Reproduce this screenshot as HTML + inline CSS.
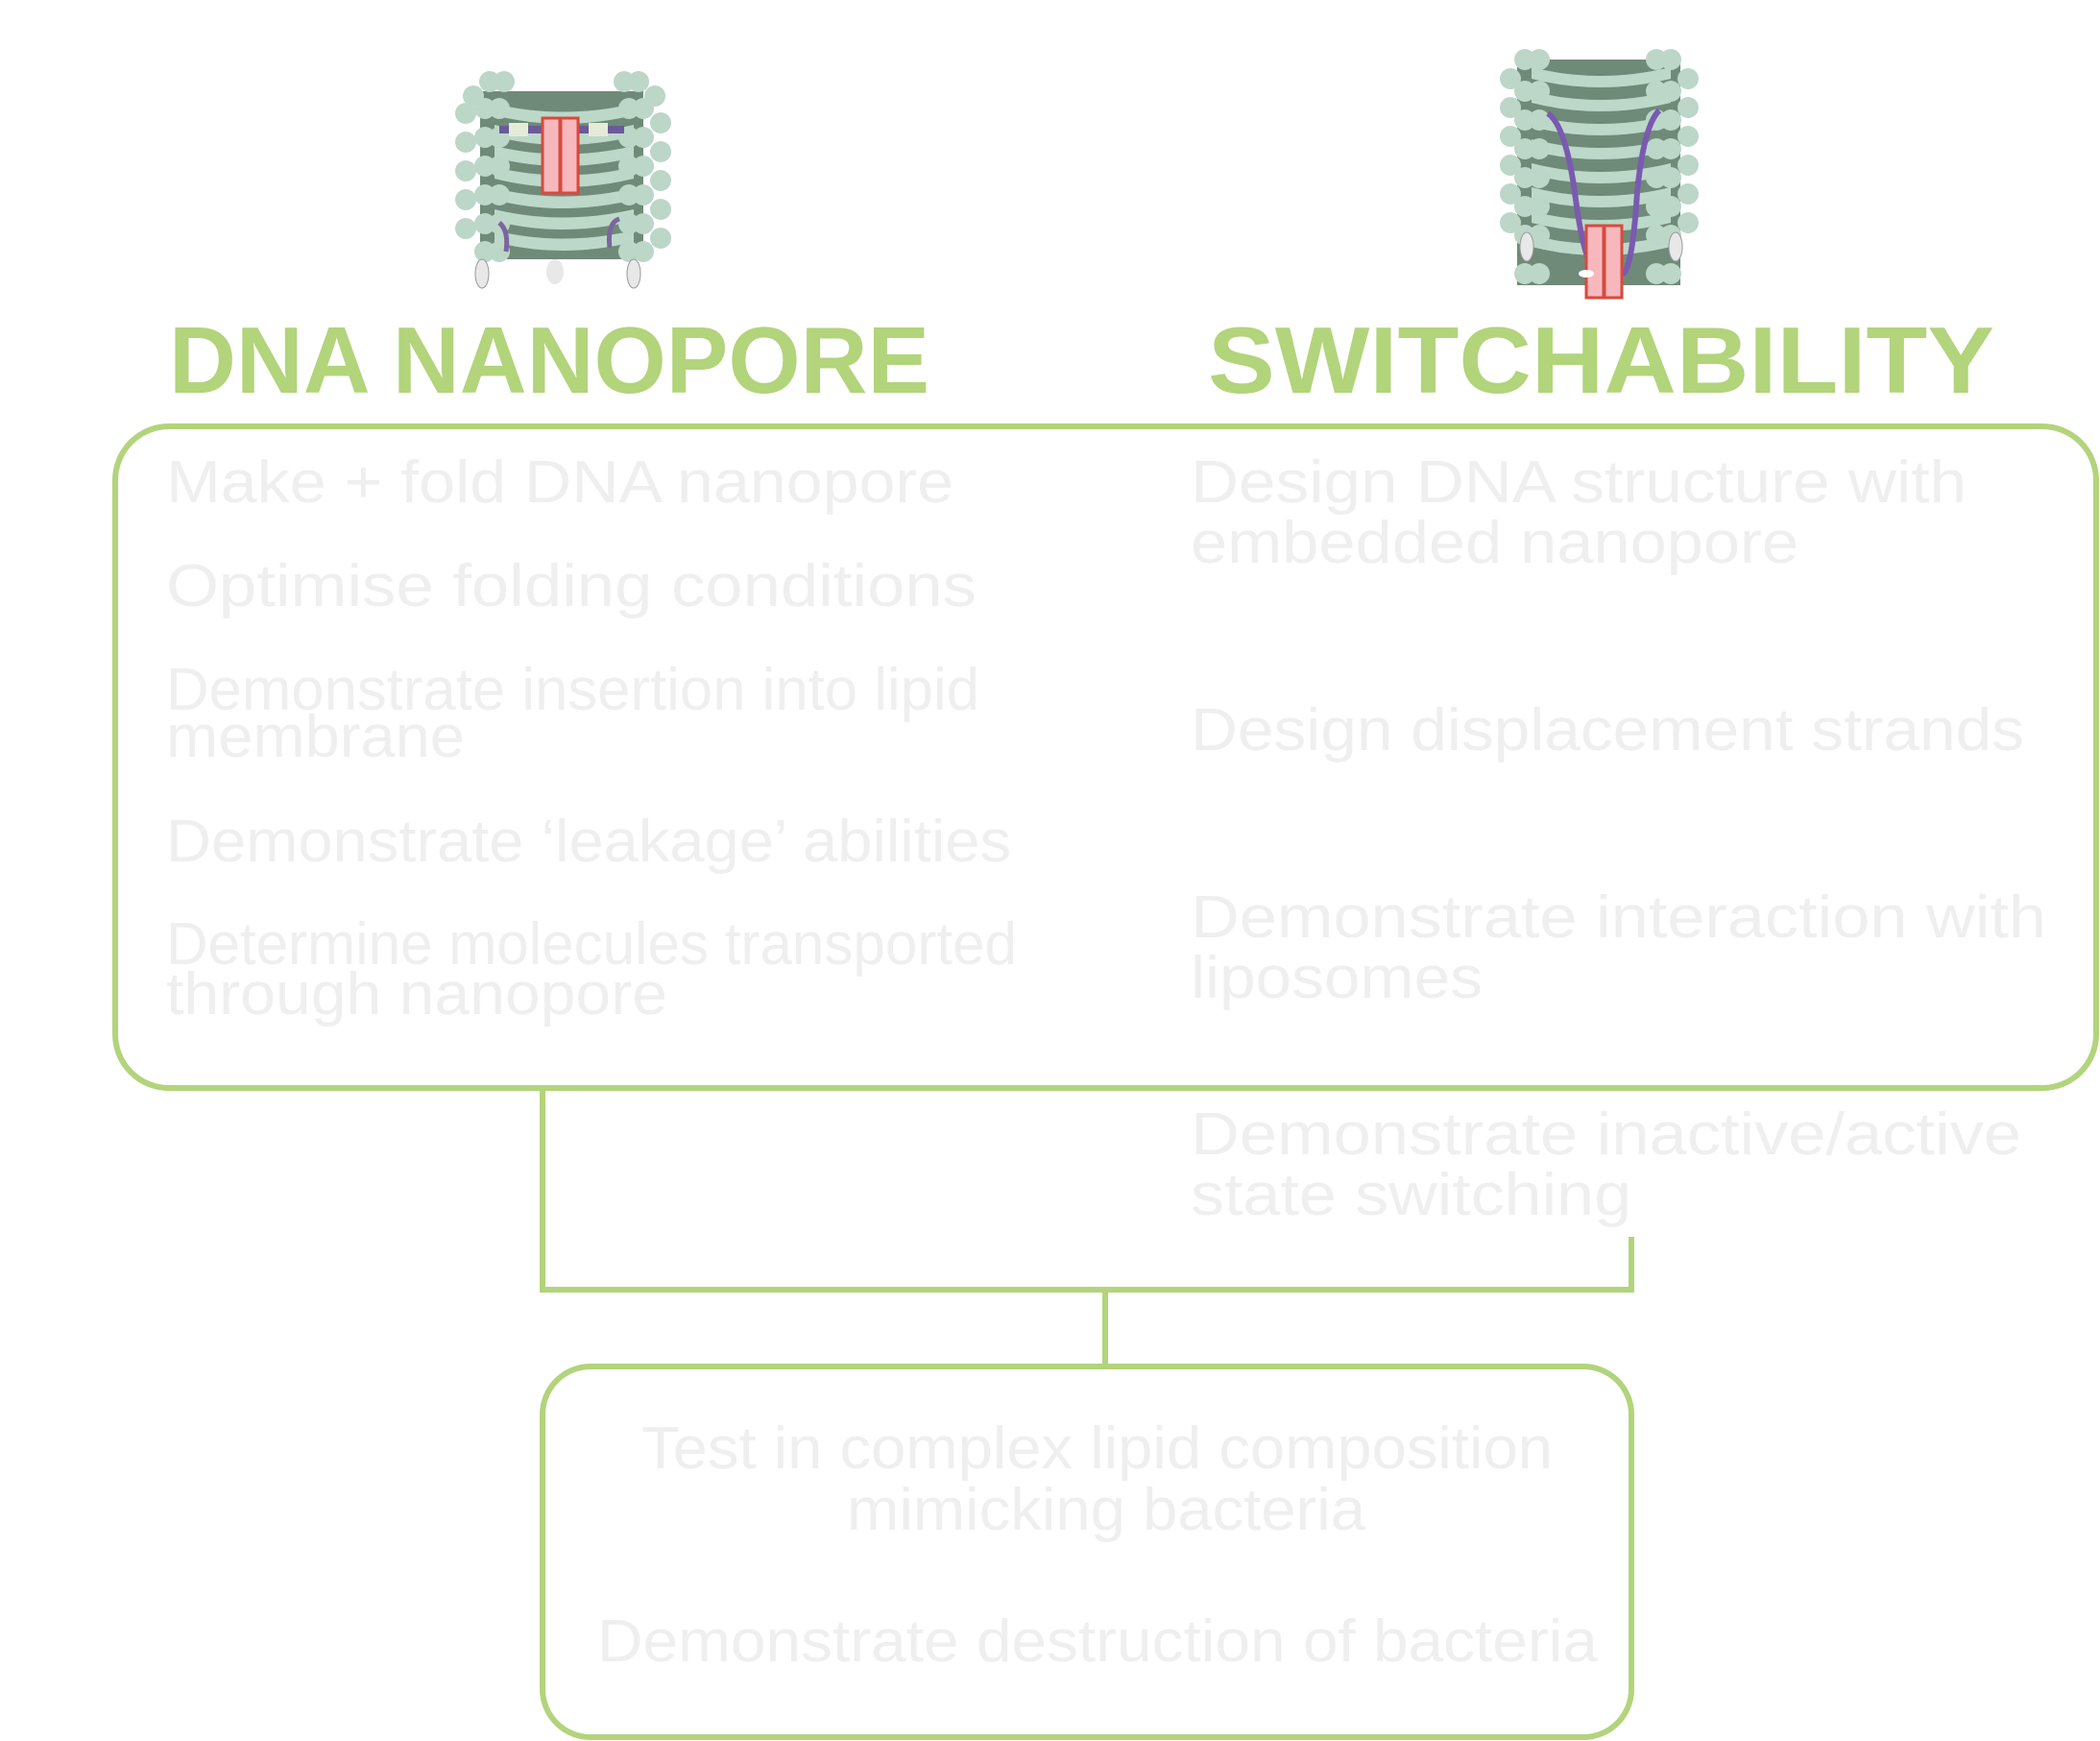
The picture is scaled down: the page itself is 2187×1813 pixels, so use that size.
<!DOCTYPE html>
<html><head><meta charset="utf-8"><style>
html,body{margin:0;padding:0;background:#fff;}
svg{display:block;}
</style></head><body>
<svg width="2187" height="1813" viewBox="0 0 2187 1813" xmlns="http://www.w3.org/2000/svg">
<defs>
<g id="ring"><circle r="13" fill="#bcd6c8" stroke="#a9c6b7" stroke-width="1"/></g>
</defs>
<!-- Left icon -->
<g>
  <rect x="500" y="95" width="170" height="175" fill="#6f8a78"/>
  <g fill="#bcd8c9">
    <path d="M515 108 Q585 125 660 108 L660 120 Q585 138 515 120Z"/>
    <path d="M515 130 Q585 147 660 130 L660 142 Q585 160 515 142Z"/>
    <path d="M515 152 Q585 169 660 152 L660 164 Q585 182 515 164Z"/>
    <path d="M515 174 Q585 191 660 174 L660 186 Q585 204 515 186Z"/>
    <path d="M515 196 Q585 213 660 196 L660 208 Q585 226 515 208Z"/>
    <path d="M515 218 Q585 235 660 218 L660 230 Q585 248 515 230Z"/>
    <path d="M515 240 Q585 257 660 240 L660 252 Q585 270 515 252Z"/>
  </g>
  <g fill="#bcd6c8">
    <circle cx="493" cy="100" r="11"/><circle cx="510" cy="85" r="11"/><circle cx="525" cy="85" r="11"/>
    <circle cx="485" cy="118" r="11"/><circle cx="505" cy="113" r="11"/><circle cx="520" cy="113" r="11"/>
    <circle cx="485" cy="148" r="11"/><circle cx="505" cy="143" r="11"/><circle cx="520" cy="143" r="11"/>
    <circle cx="485" cy="178" r="11"/><circle cx="505" cy="173" r="11"/><circle cx="520" cy="173" r="11"/>
    <circle cx="485" cy="208" r="11"/><circle cx="505" cy="203" r="11"/><circle cx="520" cy="203" r="11"/>
    <circle cx="485" cy="238" r="11"/><circle cx="505" cy="233" r="11"/><circle cx="520" cy="233" r="11"/>
    <circle cx="505" cy="262" r="11"/><circle cx="520" cy="262" r="11"/>
    <circle cx="650" cy="85" r="11"/><circle cx="665" cy="85" r="11"/><circle cx="682" cy="100" r="11"/>
    <circle cx="655" cy="113" r="11"/><circle cx="670" cy="113" r="11"/><circle cx="688" cy="128" r="11"/>
    <circle cx="655" cy="143" r="11"/><circle cx="670" cy="143" r="11"/><circle cx="688" cy="158" r="11"/>
    <circle cx="655" cy="173" r="11"/><circle cx="670" cy="173" r="11"/><circle cx="688" cy="188" r="11"/>
    <circle cx="655" cy="203" r="11"/><circle cx="670" cy="203" r="11"/><circle cx="688" cy="218" r="11"/>
    <circle cx="655" cy="233" r="11"/><circle cx="670" cy="233" r="11"/><circle cx="688" cy="248" r="11"/>
    <circle cx="655" cy="262" r="11"/><circle cx="670" cy="262" r="11"/>
  </g>
  <rect x="520" y="131" width="130" height="8" fill="#6a5a9a"/>
  <rect x="530" y="128" width="20" height="14" fill="#e4ecd8"/>
  <rect x="613" y="128" width="20" height="14" fill="#e4ecd8"/>
  <rect x="565" y="123" width="18" height="78" fill="#f7b8bd" stroke="#d84a3c" stroke-width="3"/>
  <rect x="584" y="123" width="18" height="78" fill="#f7b8bd" stroke="#d84a3c" stroke-width="3"/>
  <path d="M520 232 Q530 240 527 262" stroke="#7a669e" stroke-width="5" fill="none"/>
  <path d="M645 228 Q632 232 635 258" stroke="#7a669e" stroke-width="5" fill="none"/>
  <ellipse cx="502" cy="285" rx="7" ry="15" fill="#e8e8e8" stroke="#999" stroke-width="1"/>
  <ellipse cx="578" cy="283" rx="9" ry="13" fill="#e8e8e8"/>
  <ellipse cx="660" cy="285" rx="7" ry="15" fill="#e8e8e8" stroke="#999" stroke-width="1"/>
</g>
<!-- Right icon -->
<g>
  <rect x="1580" y="62" width="170" height="235" fill="#6f8a78"/>
  <g fill="#bcd8c9">
    <path d="M1595 70 Q1665 88 1740 70 L1740 82 Q1665 100 1595 82Z"/>
    <path d="M1595 95 Q1665 113 1740 95 L1740 107 Q1665 125 1595 107Z"/>
    <path d="M1595 120 Q1665 138 1740 120 L1740 132 Q1665 150 1595 132Z"/>
    <path d="M1595 145 Q1665 163 1740 145 L1740 157 Q1665 175 1595 157Z"/>
    <path d="M1595 170 Q1665 188 1740 170 L1740 182 Q1665 200 1595 182Z"/>
    <path d="M1595 195 Q1665 213 1740 195 L1740 207 Q1665 225 1595 207Z"/>
    <path d="M1595 220 Q1665 238 1740 220 L1740 232 Q1665 250 1595 232Z"/>
    <path d="M1595 245 Q1665 263 1740 245 L1740 257 Q1665 275 1595 257Z"/>
  </g>
  <g fill="#bcd6c8">
    <circle cx="1588" cy="62" r="11"/><circle cx="1603" cy="62" r="11"/>
    <circle cx="1573" cy="82" r="11"/><circle cx="1588" cy="95" r="11"/><circle cx="1603" cy="95" r="11"/>
    <circle cx="1573" cy="112" r="11"/><circle cx="1588" cy="125" r="11"/><circle cx="1603" cy="125" r="11"/>
    <circle cx="1573" cy="142" r="11"/><circle cx="1588" cy="155" r="11"/><circle cx="1603" cy="155" r="11"/>
    <circle cx="1573" cy="172" r="11"/><circle cx="1588" cy="185" r="11"/><circle cx="1603" cy="185" r="11"/>
    <circle cx="1573" cy="202" r="11"/><circle cx="1588" cy="215" r="11"/><circle cx="1603" cy="215" r="11"/>
    <circle cx="1573" cy="232" r="11"/><circle cx="1588" cy="245" r="11"/><circle cx="1603" cy="245" r="11"/>
    <circle cx="1588" cy="285" r="11"/><circle cx="1603" cy="285" r="11"/>
    <circle cx="1725" cy="62" r="11"/><circle cx="1740" cy="62" r="11"/>
    <circle cx="1725" cy="95" r="11"/><circle cx="1740" cy="95" r="11"/><circle cx="1758" cy="82" r="11"/>
    <circle cx="1725" cy="125" r="11"/><circle cx="1740" cy="125" r="11"/><circle cx="1758" cy="112" r="11"/>
    <circle cx="1725" cy="155" r="11"/><circle cx="1740" cy="155" r="11"/><circle cx="1758" cy="142" r="11"/>
    <circle cx="1725" cy="185" r="11"/><circle cx="1740" cy="185" r="11"/><circle cx="1758" cy="172" r="11"/>
    <circle cx="1725" cy="215" r="11"/><circle cx="1740" cy="215" r="11"/><circle cx="1758" cy="202" r="11"/>
    <circle cx="1725" cy="245" r="11"/><circle cx="1740" cy="245" r="11"/><circle cx="1758" cy="232" r="11"/>
    <circle cx="1725" cy="285" r="11"/><circle cx="1740" cy="285" r="11"/>
  </g>
  <path d="M1612 118 Q1630 130 1640 200 Q1650 280 1665 285 L1690 285 Q1700 280 1705 200 Q1712 130 1728 115" stroke="#7a5ab0" stroke-width="6" fill="none"/>
  <rect x="1652" y="235" width="18" height="75" fill="#f7b8bd" stroke="#d84a3c" stroke-width="3"/>
  <rect x="1671" y="235" width="18" height="75" fill="#f7b8bd" stroke="#d84a3c" stroke-width="3"/>
  <ellipse cx="1652" cy="285" rx="8" ry="4" fill="#fff"/>
  <ellipse cx="1590" cy="257" rx="7" ry="15" fill="#e8e8e8" stroke="#999" stroke-width="1"/>
  <ellipse cx="1745" cy="257" rx="7" ry="15" fill="#e8e8e8" stroke="#999" stroke-width="1"/>
</g>

<!-- Titles -->
<g font-family="Liberation Sans, sans-serif" font-weight="bold" font-size="98" fill="#b2d47b">
  <text x="176" y="409" textLength="792" lengthAdjust="spacingAndGlyphs">DNA NANOPORE</text>
  <text x="1258" y="409" textLength="819" lengthAdjust="spacingAndGlyphs">SWITCHABILITY</text>
</g>

<!-- Boxes and connectors -->
<g fill="none" stroke="#b2d47b" stroke-width="6">
  <rect x="120" y="444" width="2063" height="689" rx="56"/>
  <rect x="565" y="1423" width="1134" height="386" rx="50"/>
  <path d="M565 1133 V1343 H1699 V1288"/>
  <path d="M1151 1343 V1423"/>
</g>

<!-- Texts -->
<g font-family="Liberation Sans, sans-serif" font-size="62" fill="#efefef">
  <text x="173" y="523" textLength="820" lengthAdjust="spacingAndGlyphs">Make + fold DNA nanopore</text>
  <text x="173" y="631" textLength="844" lengthAdjust="spacingAndGlyphs">Optimise folding conditions</text>
  <text x="173" y="739" textLength="847" lengthAdjust="spacingAndGlyphs">Demonstrate insertion into lipid</text>
  <text x="173" y="788" textLength="311" lengthAdjust="spacingAndGlyphs">membrane</text>
  <text x="173" y="897" textLength="880" lengthAdjust="spacingAndGlyphs">Demonstrate ‘leakage’ abilities</text>
  <text x="173" y="1004" textLength="886" lengthAdjust="spacingAndGlyphs">Determine molecules transported</text>
  <text x="173" y="1056" textLength="522" lengthAdjust="spacingAndGlyphs">through nanopore</text>

  <text x="1240" y="523" textLength="808" lengthAdjust="spacingAndGlyphs">Design DNA structure with</text>
  <text x="1240" y="586" textLength="633" lengthAdjust="spacingAndGlyphs">embedded nanopore</text>
  <text x="1240" y="781" textLength="868" lengthAdjust="spacingAndGlyphs">Design displacement strands</text>
  <text x="1240" y="976" textLength="891" lengthAdjust="spacingAndGlyphs">Demonstrate interaction with</text>
  <text x="1240" y="1039" textLength="304" lengthAdjust="spacingAndGlyphs">liposomes</text>
  <text x="1240" y="1202" textLength="865" lengthAdjust="spacingAndGlyphs">Demonstrate inactive/active</text>
  <text x="1240" y="1265" textLength="459" lengthAdjust="spacingAndGlyphs">state switching</text>

  <text x="668" y="1529" textLength="949" lengthAdjust="spacingAndGlyphs">Test in complex lipid composition</text>
  <text x="882" y="1593" textLength="540" lengthAdjust="spacingAndGlyphs">mimicking bacteria</text>
  <text x="622" y="1730" textLength="1042" lengthAdjust="spacingAndGlyphs">Demonstrate destruction of bacteria</text>
</g>
</svg>
</body></html>
